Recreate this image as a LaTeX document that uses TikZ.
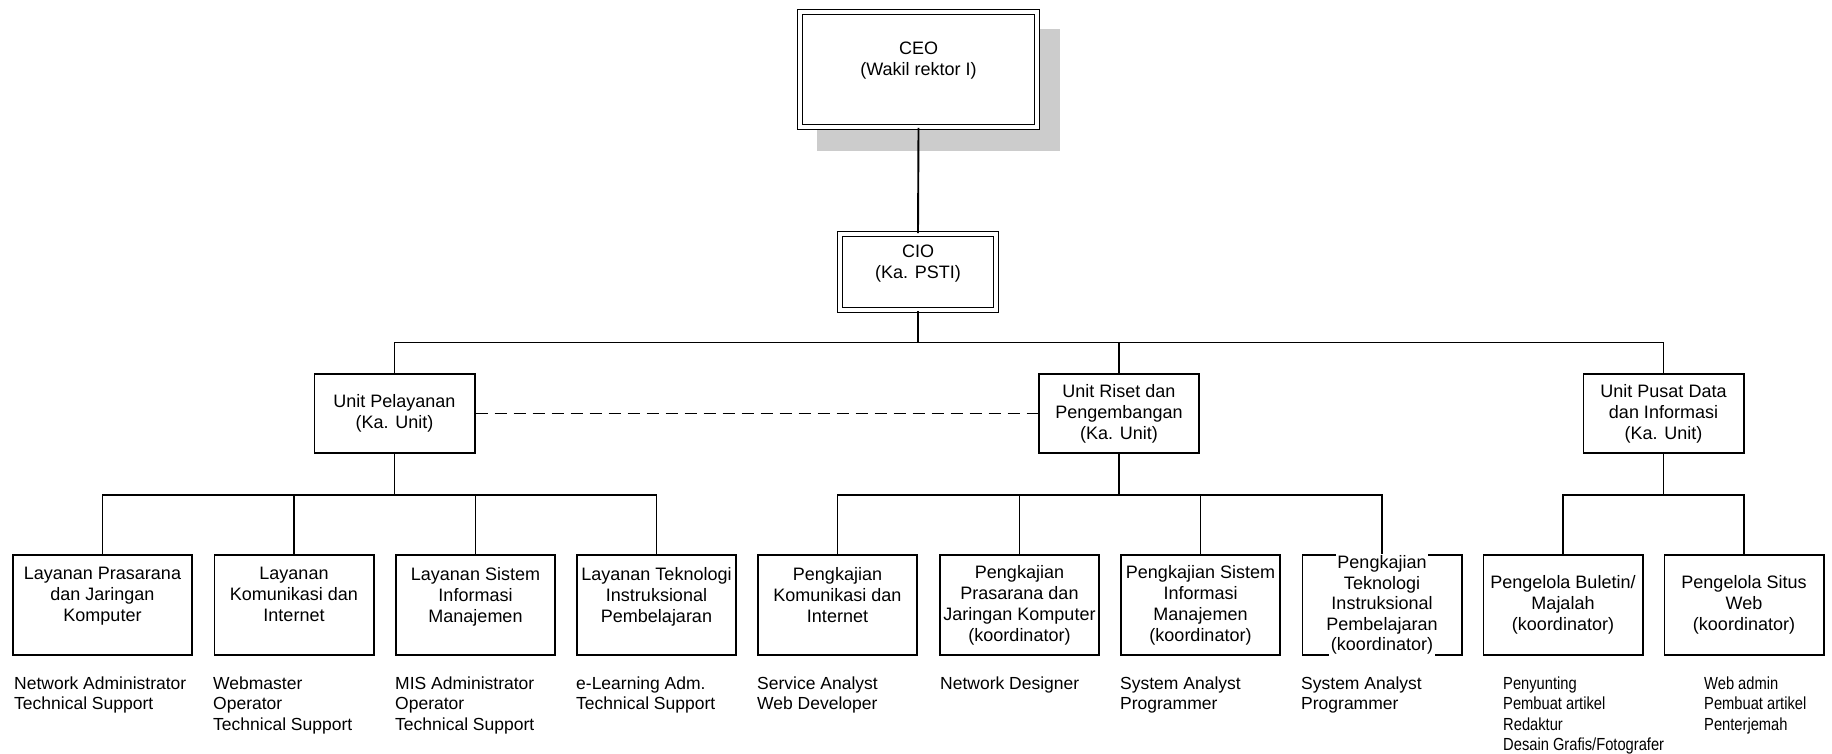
\documentclass[tikz,border=0pt]{standalone}
\usepackage{fontspec}
\setmainfont{Liberation Sans}
\newfontfamily\narrowsans[FakeStretch=0.84]{Liberation Sans}
% role list under a box: first baseline is the node's base
\newcommand\rolelist[1]{\vtop{\halign{##\hfil\cr#1\crcr}}}
\begin{document}
\begin{tikzpicture}[x=1pt,y=-1pt,
  conn/.style={line width=1.9pt, black},
  dashconn/.style={conn, dash pattern=on 12pt off 7pt},
  boxfont/.style={font=\fontsize{18}{21}\selectfont},
  topbox/.style={draw, line width=1.6pt, double, double distance=3.2pt,
    inner sep=0pt, align=center, boxfont},
  unitbox/.style={draw, line width=1.9pt, minimum width=160.1pt,
    minimum height=79.1pt, inner sep=0pt, align=center, boxfont},
  subbox/.style={draw, line width=1.9pt, minimum width=159.1pt,
    minimum height=100.1pt, inner sep=0pt, align=center, boxfont},
  roles/.style={anchor=base west, inner sep=0pt,
    font=\fontsize{17.5}{20.5}\selectfont},
  narrowroles/.style={roles, font=\fontsize{17.5}{20.5}\narrowsans},
  shadow/.style={fill=black!20, draw=none}
]
\useasboundingbox (0,0) rectangle (1832,753);

% shadow behind the CEO box
\fill[shadow] (817,29) rectangle (1060,151);

% top of the hierarchy
\node[topbox, minimum width=237pt, minimum height=115pt, fill=white] (ceo)
  at (918.5,69.5) {CEO\\(Wakil rektor I)\\\mbox{}};
\node[topbox, minimum width=156pt, minimum height=76pt] (cio)
  at (918,272) {CIO\\(Ka. PSTI)\\\mbox{}};

% units
\node[unitbox] (up) at (394.5,413.5) {Unit Pelayanan\\(Ka. Unit)};
\node[unitbox] (rd) at (1119,413.5) {Unit Riset dan\\Pengembangan\\(Ka. Unit)};
\node[unitbox] (pd) at (1663.5,413.5) {Unit Pusat Data\\dan Informasi\\(Ka. Unit)};

% Unit Pelayanan
\node[subbox, minimum width=179.1pt] (l1) at (102.5,605)
  {Layanan Prasarana\\dan Jaringan\\Komputer\\\mbox{}};
\node[subbox] (l2) at (294,605) {Layanan\\Komunikasi dan\\Internet\\\mbox{}};
\node[subbox] (l3) at (475.5,605) {Layanan Sistem\\Informasi\\Manajemen\\\mbox{}};
\node[subbox] (l4) at (656.5,605) {Layanan Teknologi\\Instruksional\\Pembelajaran\\\mbox{}};

% Unit Riset dan Pengembangan
\node[subbox] (k1) at (837.5,605) {Pengkajian\\Komunikasi dan\\Internet\\\mbox{}};
\node[subbox] (k2) at (1019.5,605) {Pengkajian\\Prasarana dan\\Jaringan Komputer\\(koordinator)};
\node[subbox] (k3) at (1200.5,605) {Pengkajian Sistem\\Informasi\\Manajemen\\(koordinator)};
\node[subbox] (k4) at (1382,605) {};
% five lines overrun this box; the first and last hide its border
\node[inner sep=0pt, align=center, font=\fontsize{18}{20.5}\selectfont,
  execute at begin node={\setlength\fboxsep{1.5pt}}] (k4t) at (k4)
  {\colorbox{white}{Pengkajian}\\Teknologi\\Instruksional\\Pembelajaran\\\colorbox{white}{(koordinator)}};

% Unit Pusat Data dan Informasi
\node[subbox] (p1) at (1563,605) {Pengelola Buletin/\\Majalah\\(koordinator)};
\node[subbox] (p2) at (1744,605) {Pengelola Situs\\Web\\(koordinator)};

% connectors
\coordinate (busA) at (0,342.5);
\coordinate (busB) at (0,495);
\draw[conn] (ceo.south) -- (cio.north);
\draw[conn] (cio.south) -- (cio.south |- busA);
\draw[conn] (up.north) |- (pd.north |- busA) -- (pd.north);
\draw[conn] (rd.north) -- (rd.north |- busA);
\draw[dashconn] (up.east) -- (rd.west);

\draw[conn] (up.south) -- (up.south |- busB);
\draw[conn] (l1.north) |- (l4.north |- busB) -- (l4.north);
\draw[conn] (l2.north) -- (l2.north |- busB);
\draw[conn] (l3.north) -- (l3.north |- busB);

\draw[conn] (rd.south) -- (rd.south |- busB);
\draw[conn] (k1.north) |- (k4.north |- busB) -- (k4.north);
\draw[conn] (k2.north) -- (k2.north |- busB);
\draw[conn] (k3.north) -- (k3.north |- busB);

\draw[conn] (pd.south) -- (pd.south |- busB);
\draw[conn] (p1.north) |- (p2.north |- busB) -- (p2.north);

% staff roles
\node[roles] (r1) at (14,689) {\rolelist{Network Administrator\cr Technical Support}};
\node[roles] (r2) at (213,689) {\rolelist{Webmaster\cr Operator\cr Technical Support}};
\node[roles] (r3) at (395,689) {\rolelist{MIS Administrator\cr Operator\cr Technical Support}};
\node[roles] (r4) at (576,689) {\rolelist{e-Learning Adm.\cr Technical Support}};
\node[roles] (r5) at (757,689) {\rolelist{Service Analyst\cr Web Developer}};
\node[roles] (r6) at (940,689) {\rolelist{Network Designer}};
\node[roles] (r7) at (1120,689) {\rolelist{System Analyst\cr Programmer}};
\node[roles] (r8) at (1301,689) {\rolelist{System Analyst\cr Programmer}};
\node[narrowroles] (r9) at (1503,689) {\rolelist{Penyunting\cr Pembuat artikel\cr Redaktur\cr Desain Grafis/Fotografer}};
\node[narrowroles] (r10) at (1704,689) {\rolelist{Web admin\cr Pembuat artikel\cr Penterjemah}};
\end{tikzpicture}
\end{document}
